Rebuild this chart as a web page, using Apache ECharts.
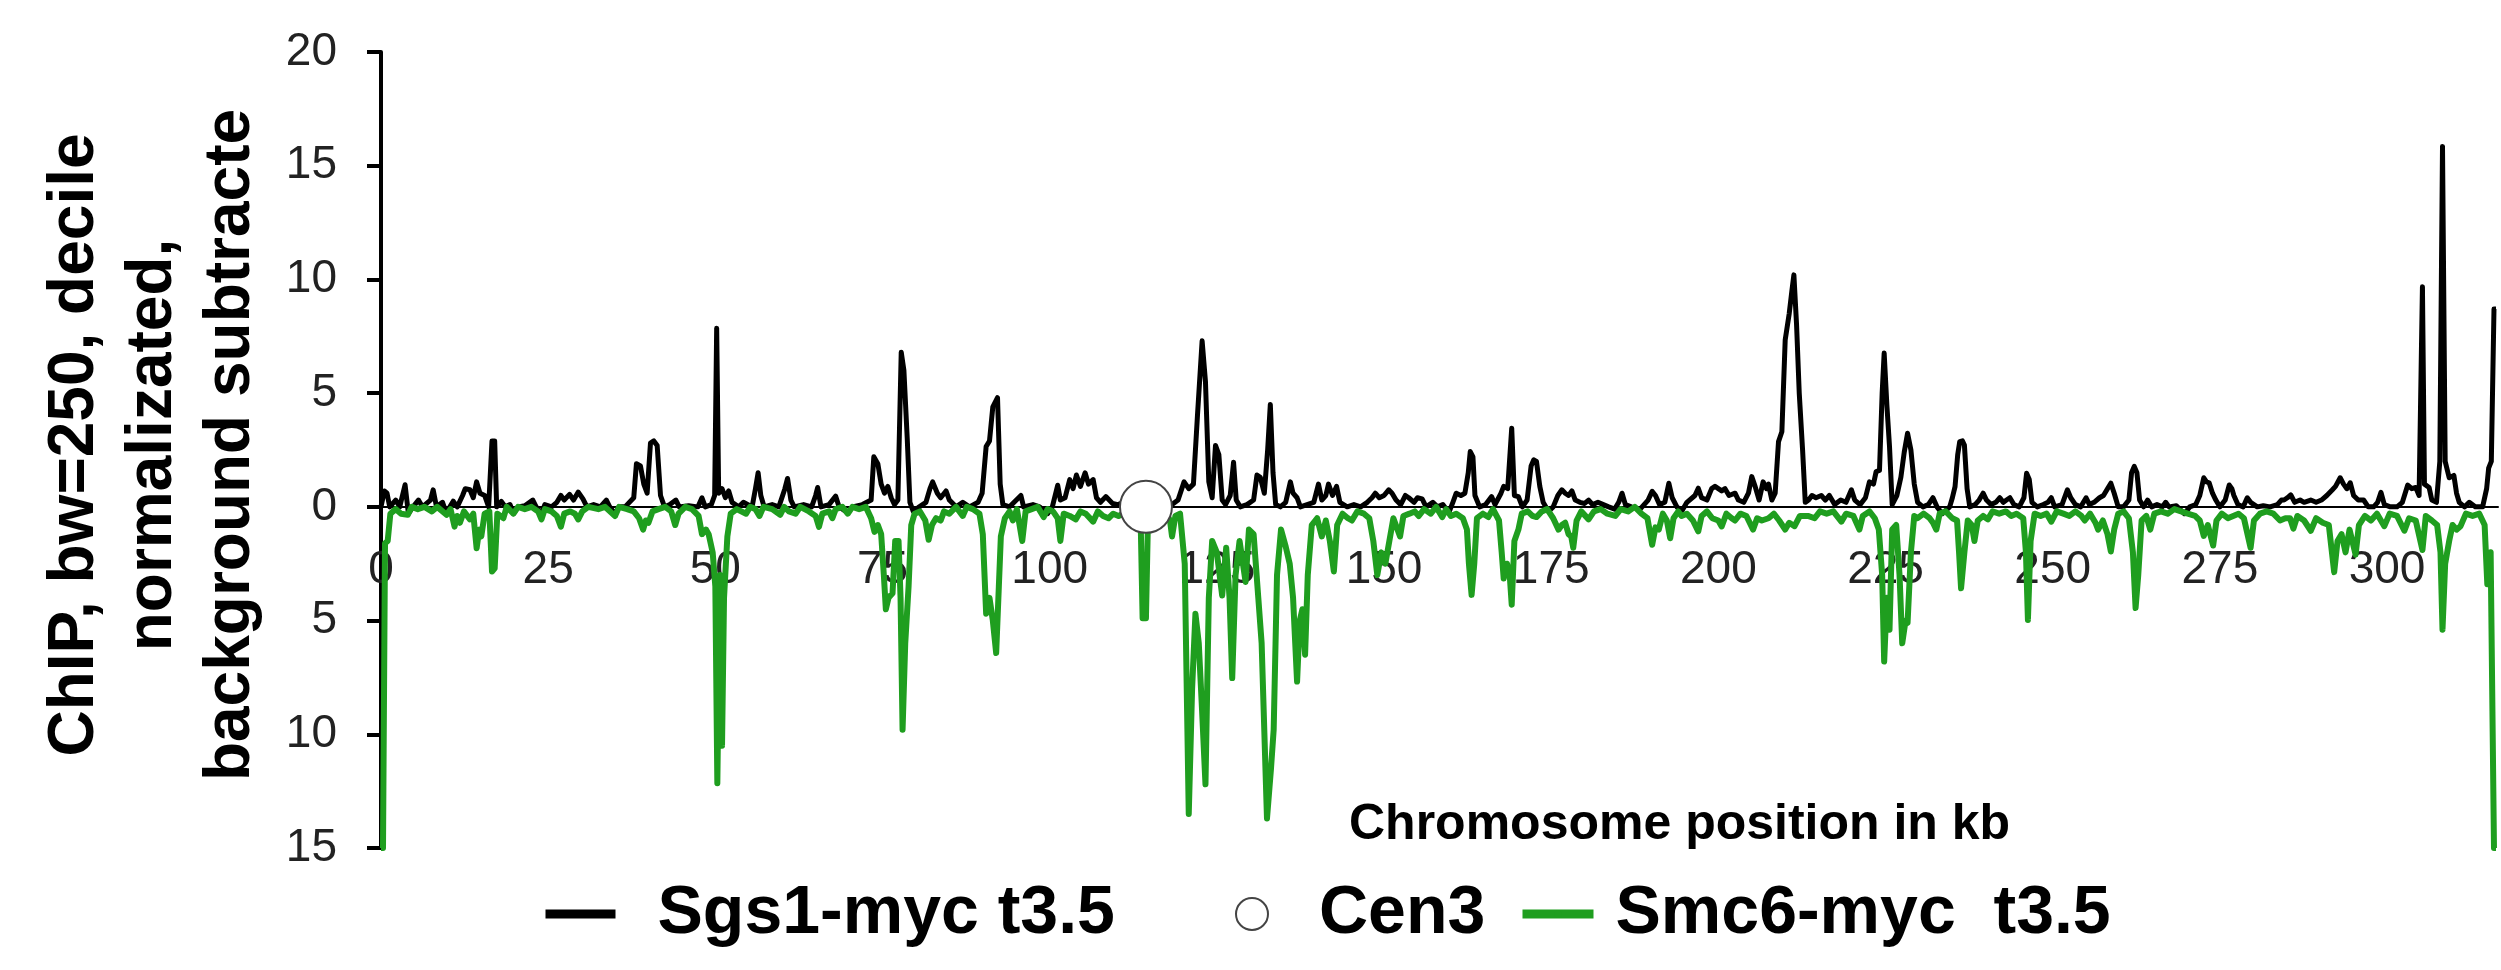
<!DOCTYPE html>
<html>
<head>
<meta charset="utf-8">
<script src="https://cdn.jsdelivr.net/npm/echarts@6/dist/echarts.min.js"></script>
<style>
html,body{margin:0;padding:0;background:#fff;}
#chart{width:2501px;height:970px;}
</style>
</head>
<body>
<div id="chart"></div>
<script>
// ---- data (kb, value) ----
const seriesNames = ['Sgs1-myc t3.5', 'Cen3', 'Smc6-myc  t3.5'];
const yAxisTitle = 'ChIP, bw=250, decile\nnormalizated,\nbackground subtracte';
const xAxisTitle = 'Chromosome position in kb';
const xTickValues = [0, 25, 50, 75, 100, 125, 150, 175, 200, 225, 250, 275, 300];
const yTickValues = [-15, -10, -5, 0, 5, 10, 15, 20];

const sgs1 = [
[0,0],[0.5,0.7],[0.9,0.6],[1.3,0],[2.2,0.3],[2.8,0],[3.6,0.97],[4.1,-0.3],[4.8,0],[5.6,0.3],[6.2,0],[7.4,0.3],[7.8,0.75],[8.3,0],
[9.2,0.2],[9.8,-0.3],[10.3,0],[10.8,0.25],[11.4,0],[12.2,0.5],[12.6,0.8],[13.3,0.75],[13.8,0.4],[14.3,1.1],[14.8,0.6],[15.5,0.5],[16.1,0],
[16.6,2.9],[17.0,2.9],[17.3,0],[18.0,0.24],[18.6,0],[19.3,0.1],[19.8,-0.3],[20.5,0],[21.5,0.05],[22.7,0.3],[23.2,0],[24.0,-0.3],[24.5,0.1],
[25.5,0],[26.3,0.2],[26.9,0.5],[27.4,0.3],[28.2,0.55],[28.8,0.3],[29.5,0.65],[30.2,0.35],[30.8,0],[31.8,0.1],[32.8,0],[33.7,0.3],[34.2,0],
[35.0,-0.3],[35.6,0],[36.5,0],[37.8,0.4],[38.2,1.9],[38.8,1.8],[39.3,1.0],[39.8,0.6],[40.3,2.8],[40.8,2.9],[41.3,2.7],[41.8,0.5],[42.4,0],
[43.2,0.1],[44.1,0.3],[44.6,0],[46.0,0.05],[47.4,0],[48.0,0.4],[48.5,0],[49.4,0.1],[49.9,0.5],[50.2,7.85],[50.5,0.6],[51.0,0.8],[51.5,0.4],
[52.0,0.7],[52.5,0.2],[53.5,0],[54.2,0.2],[55.5,0],[56.0,0.8],[56.4,1.5],[56.8,0.5],[57.3,0],[58.5,0.1],[59.5,0],[60.4,0.8],[60.8,1.25],
[61.3,0.3],[61.8,0],[63.2,0.1],[64.4,0],[65.0,0.5],[65.3,0.85],[65.8,0],[67.0,0.1],[68.0,0.47],[68.5,0],[69.8,-0.25],[70.5,0],[72.0,0.1],
[73.3,0.3],[73.7,2.2],[74.3,1.9],[74.8,1.0],[75.3,0.6],[75.8,0.9],[76.3,0.4],[76.8,0.1],[77.3,0.3],[77.8,6.8],[78.2,6.0],[78.7,3.0],[79.1,0.2],
[79.6,-0.2],[80.5,0],[81.5,0.2],[82.1,0.8],[82.5,1.1],[83.2,0.6],[83.7,0.4],[84.5,0.7],[85.0,0.3],[86.0,0],[87.0,0.2],[88.0,0],[89.3,0.2],
[89.9,0.6],[90.5,2.65],[91.0,2.9],[91.5,4.4],[92.2,4.8],[92.6,1.0],[93.0,0.1],[94.0,0],[95.7,0.5],[96.1,0],[97.5,0.1],[98.5,0],[99.7,-0.3],
[100.4,0],[101.2,0.95],[101.6,0.3],[102.3,0.4],[103.0,1.2],[103.5,0.8],[104.0,1.4],[104.6,0.9],[105.3,1.5],[105.8,1.0],[106.5,1.2],[107.0,0.4],
[107.6,0.2],[108.4,0.45],[109.4,0.15],[110.2,0.1],[112.0,0.3],[113.5,0.2],[115.0,0.3],[116.5,0.2],[117.8,0.1],[118.3,0.1],[119.2,0.3],
[120.1,1.1],[120.8,0.8],[121.5,1.0],[122.1,4.0],[122.8,7.3],[123.3,5.5],[123.8,1.1],[124.3,0.4],[124.8,2.7],[125.3,2.3],[125.8,0.3],[126.3,0.1],
[127.0,0.5],[127.5,1.96],[127.9,0.3],[128.5,0],[129.5,0.1],[130.5,0.3],[131.0,1.4],[131.5,1.3],[132.1,0.6],[132.6,2.5],[133.0,4.5],[133.4,1.5],
[133.8,0.1],[134.5,0],[135.3,0.2],[136.0,1.1],[136.4,0.6],[137.0,0.4],[137.5,0],[138.5,0.1],[139.5,0.2],[140.2,1.0],[140.7,0.3],[141.3,0.5],
[141.7,1.0],[142.3,0.5],[142.9,0.9],[143.4,0.2],[144.5,0],[145.5,0.1],[146.5,0],[147.5,0.2],[148.2,0.4],[148.7,0.6],[149.3,0.4],[150.0,0.5],
[150.7,0.75],[151.2,0.6],[151.8,0.3],[152.5,0.1],[153.2,0.5],[153.7,0.4],[154.5,0.2],[155.0,0.4],[155.7,0.35],[156.3,0],[157.3,0.2],[158.0,0],
[158.8,0.1],[159.7,-0.25],[160.3,0.2],[160.8,0.6],[161.5,0.5],[162.1,0.6],[162.6,1.5],[162.9,2.43],[163.3,2.2],[163.6,0.5],[164.3,0],[165.2,0.1],
[166.1,0.45],[166.6,0.1],[167.5,0.6],[167.9,0.9],[168.5,0.8],[169.1,3.46],[169.5,0.5],[170.1,0.45],[170.7,0],[171.4,0.3],[172.0,1.8],[172.4,2.07],
[172.8,2.0],[173.3,0.9],[173.8,0.2],[174.6,-0.2],[175.3,0],[176.0,0.5],[176.6,0.75],[177.1,0.6],[177.6,0.5],[178.1,0.7],[178.6,0.3],[179.3,0.2],
[180.0,0.15],[180.6,0.3],[181.2,0.1],[182.0,0.2],[182.8,0.1],[183.6,0],[184.5,-0.1],[185.1,0.2],[185.6,0.6],[186.1,0.1],[187.0,0],[188.3,-0.1],
[189.5,0.3],[190.1,0.68],[190.6,0.5],[191.2,0.1],[192.0,0.2],[192.6,1.04],[193.1,0.4],[193.8,0],[194.5,-0.2],[195.3,0.2],[196.5,0.5],[197.0,0.82],
[197.5,0.4],[198.3,0.3],[199.0,0.8],[199.5,0.9],[200.0,0.8],[200.5,0.7],[201.0,0.8],[201.6,0.5],[202.5,0.6],[203.0,0.3],[203.8,0.2],[204.5,0.6],
[205.0,1.33],[205.5,0.9],[206.1,0.3],[206.7,1.1],[207.2,0.8],[207.5,1.0],[208.0,0.3],[208.5,0.6],[209.0,2.87],[209.5,3.3],[210.0,7.34],[210.6,8.5],
[211.0,9.5],[211.3,10.2],[211.7,8.0],[212.1,5.0],[212.6,2.5],[213.0,0.2],[213.5,0.3],[214.0,0.5],[214.6,0.4],[215.4,0.5],[216.0,0.3],[216.6,0.5],
[217.4,0.1],[218.3,0.3],[219.1,0.2],[219.9,0.75],[220.4,0.3],[221.2,0.1],[222.0,0.4],[222.6,1.1],[223.2,1.0],[223.6,1.55],[224.1,1.6],[224.5,5.0],
[224.8,6.76],[225.2,4.5],[225.6,2.65],[226.0,0.1],[226.7,0.5],[227.3,1.3],[227.8,2.4],[228.3,3.24],[228.8,2.5],[229.3,1.0],[229.8,0.2],[230.6,0],
[231.4,0.1],[232.1,0.4],[232.7,0],[233.5,-0.3],[234.6,0],[235.0,0.4],[235.4,0.89],[235.8,2.3],[236.1,2.87],[236.5,2.9],[236.8,2.72],[237.2,0.8],
[237.6,0],[238.4,0.1],[239.0,0.3],[239.6,0.6],[240.1,0.3],[240.8,0.1],[241.5,0.2],[242.1,0.4],[242.6,0.2],[243.1,0.3],[243.6,0.4],[244.2,0.1],
[245.0,0],[245.7,0.4],[246.1,1.48],[246.5,1.2],[246.9,0.2],[247.7,0],[248.6,0.1],[249.3,0.2],[249.8,0.4],[250.3,0],[251.4,0.1],[252.2,0.75],
[252.7,0.4],[253.4,0.1],[254.2,0],[255.0,0.4],[255.5,0.1],[256.2,0.2],[257.0,0.4],[257.6,0.5],[258.2,0.8],[258.7,1.04],[259.2,0.6],[259.8,0],
[260.6,0],[261.4,0.3],[261.8,1.5],[262.2,1.78],[262.6,1.5],[263.0,0.3],[263.6,0],[264.2,0.3],[264.8,0],[265.6,0.1],[266.4,0],[266.9,0.2],
[267.4,0],[268.5,0.05],[269.7,-0.3],[270.5,0],[271.4,0.1],[272.0,0.5],[272.6,1.28],[273.0,1.1],[273.4,1.06],[273.9,0.6],[274.4,0.3],[275.0,0],
[275.8,0.3],[276.4,0.96],[276.8,0.8],[277.1,0.5],[277.7,0.1],[278.5,0],[279.1,0.4],[279.6,0.2],[280.6,0],[281.5,0.05],[282.5,0],[283.6,0.1],
[284.2,0.3],[284.6,0.3],[285.1,0.4],[285.6,0.53],[286.2,0.2],[287.0,0.3],[287.6,0.2],[288.6,0.3],[289.4,0.2],[290.2,0.3],[291.0,0.5],[291.8,0.74],
[292.3,0.9],[293.0,1.28],[293.5,1.0],[294.0,0.8],[294.5,1.06],[295.0,0.5],[295.7,0.3],[296.5,0.3],[297.2,0],[298.0,0],[298.6,0.2],[299.1,0.64],
[299.6,0.1],[300.5,0],[301.5,0],[302.3,0.2],[303.1,0.96],[303.7,0.8],[304.3,0.85],[304.8,0.5],[305.1,6.0],[305.3,9.68],[305.6,1.0],[306.3,0.85],
[306.7,0.3],[307.4,0.2],[307.9,2.0],[308.3,15.85],[308.7,2.0],[309.3,1.28],[310.0,1.38],[310.4,0.6],[310.8,0.2],[311.6,0],[312.3,0.2],[313.2,0],
[314.3,0],[314.9,0.8],[315.2,1.7],[315.6,2.0],[316.0,8.7],[316.3,8.7]
];

const smc6 = [
[0,-15],[0.3,-15],[0.6,-1.6],[1.0,-1.5],[1.4,-0.3],[2.2,-0.1],[3.0,-0.3],[4.0,-0.35],[4.6,0],[5.5,-0.1],[6.5,0],[7.6,-0.2],[8.4,0],[9.8,-0.35],
[10.4,-0.1],[11.0,-0.87],[11.4,-0.4],[11.8,-0.7],[12.4,-0.2],[13.3,-0.55],[13.8,-0.3],[14.3,-1.82],[14.7,-1.0],[15.0,-1.3],[15.5,-0.3],[16.2,-0.2],
[16.6,-2.84],[17.0,-2.7],[17.4,-0.3],[18.3,-0.5],[18.8,0],[19.8,-0.3],[20.5,0],[21.5,-0.1],[22.5,0],[23.5,-0.2],[24.0,-0.55],[24.5,-0.1],
[25.5,-0.2],[26.3,-0.4],[26.9,-0.87],[27.4,-0.3],[28.3,-0.2],[29.0,-0.3],[29.5,-0.55],[30.1,-0.2],[31.0,0],[32.5,-0.1],[33.5,0],[35.0,-0.4],
[35.6,0],[36.8,-0.1],[37.8,-0.2],[38.6,-0.5],[39.2,-1.0],[39.6,-0.6],[40.0,-0.7],[40.6,-0.2],[41.5,-0.1],[42.5,0],[43.4,-0.2],[44.0,-0.8],
[44.5,-0.3],[45.5,0],[46.5,-0.1],[47.5,-0.4],[48.0,-1.2],[48.6,-1.0],[49.0,-1.2],[49.6,-2.0],[50.0,-3.5],[50.3,-12.15],[50.7,-3.0],[51.0,-10.5],
[51.3,-4.0],[51.8,-1.3],[52.3,-0.3],[53.2,-0.1],[54.6,-0.3],[55.2,0],[56.0,-0.1],[56.6,-0.4],[57.2,0],[58.5,-0.1],[59.7,-0.35],[60.3,0],
[61.0,-0.2],[62.0,-0.3],[62.7,0],[64.0,-0.2],[65.0,-0.4],[65.5,-0.88],[66.0,-0.3],[67.0,-0.2],[67.5,-0.5],[68.0,-0.1],[69.0,0],[69.8,-0.3],
[70.5,0],[71.5,-0.1],[72.5,0],[73.3,-0.5],[73.8,-1.1],[74.3,-0.8],[74.8,-1.2],[75.2,-3.0],[75.5,-4.5],[75.9,-4.0],[76.5,-3.8],[76.9,-1.5],
[77.4,-1.5],[77.7,-4.0],[78.0,-9.8],[78.4,-6.0],[78.9,-3.5],[79.3,-0.8],[79.8,-0.3],[80.6,-0.2],[81.4,-0.6],[81.9,-1.45],[82.4,-0.8],[83.0,-0.5],
[83.7,-0.6],[84.2,-0.2],[85.0,-0.3],[86.0,0],[87.0,-0.4],[87.6,0],[88.5,-0.1],[89.5,-0.3],[90.0,-1.2],[90.5,-4.7],[91.0,-4.0],[91.5,-5.0],
[92.0,-6.43],[92.4,-3.5],[92.7,-1.3],[93.3,-0.5],[94.0,-0.2],[94.5,-0.6],[95.1,-0.1],[95.9,-1.5],[96.4,-0.2],[97.3,-0.1],[98.2,0],[99.1,-0.45],
[99.7,-0.1],[100.5,-0.2],[101.2,-0.5],[101.6,-1.5],[102.1,-0.3],[103.0,-0.4],[103.9,-0.55],[104.6,-0.2],[105.4,-0.3],[106.5,-0.65],[107.2,-0.2],
[108.0,-0.4],[108.8,-0.5],[109.5,-0.3],[110.3,-0.4],[111.0,-0.3],[112.0,-0.5],[112.8,-0.3],[113.6,-0.5],[113.9,-4.9],[114.4,-4.9],[114.7,-0.6],
[115.5,-0.3],[116.5,-0.5],[117.3,-0.2],[118.0,-0.6],[118.3,-1.3],[118.8,-0.4],[119.5,-0.3],[120.2,-2.5],[120.8,-13.5],[121.3,-8.0],[121.8,-4.7],
[122.3,-6.0],[122.8,-9.0],[123.3,-12.2],[123.8,-4.0],[124.3,-1.5],[125.0,-2.0],[125.8,-3.9],[126.4,-1.8],[126.9,-4.0],[127.3,-7.53],[127.8,-3.0],
[128.4,-1.5],[129.3,-3.3],[129.8,-1.0],[130.5,-1.2],[131.2,-4.0],[131.7,-6.0],[132.5,-13.7],[133.1,-11.5],[133.5,-9.8],[134.0,-3.0],[134.6,-1.0],
[135.3,-1.75],[135.9,-2.5],[136.4,-4.0],[137.0,-7.68],[137.4,-5.0],[137.8,-4.5],[138.2,-6.5],[138.6,-3.0],[139.2,-0.8],[140.0,-0.5],[140.7,-1.3],
[141.3,-0.6],[141.9,-1.5],[142.5,-2.84],[143.0,-0.8],[143.8,-0.3],[144.6,-0.5],[145.2,-0.6],[146.0,-0.2],[147.0,-0.3],[147.8,-0.5],[148.4,-1.5],
[149.0,-3.0],[149.6,-2.0],[150.2,-2.5],[150.8,-1.5],[151.4,-0.5],[152.4,-1.3],[152.9,-0.4],[153.8,-0.3],[154.6,-0.2],[155.2,-0.4],[156.0,-0.1],
[157.0,-0.3],[157.8,0],[158.7,-0.45],[159.3,-0.1],[160.0,-0.4],[160.8,-0.3],[161.8,-0.5],[162.4,-1.0],[162.7,-2.5],[163.1,-3.87],[163.5,-2.5],
[163.9,-0.5],[164.8,-0.3],[165.6,-0.45],[166.3,-0.1],[167.2,-0.6],[167.6,-2.0],[167.9,-3.15],[168.4,-2.5],[168.8,-3.0],[169.1,-4.3],[169.5,-1.5],
[170.1,-1.0],[170.6,-0.3],[171.5,-0.2],[172.2,-0.4],[172.8,-0.45],[173.6,-0.2],[174.4,-0.1],[175.3,-0.5],[176.1,-1.0],[176.6,-0.8],[177.1,-0.7],
[177.6,-1.2],[178.0,-1.3],[178.3,-1.8],[178.8,-0.6],[179.5,-0.2],[180.6,-0.55],[181.4,-0.2],[182.4,-0.1],[183.4,-0.3],[184.6,-0.4],[185.4,-0.1],
[186.5,-0.2],[187.5,0],[188.5,-0.3],[189.4,-0.5],[190.1,-1.67],[190.6,-0.9],[191.1,-1.0],[191.7,-0.3],[192.3,-0.6],[192.8,-1.38],[193.3,-0.5],
[194.0,-0.2],[194.5,-0.4],[195.3,-0.3],[196.2,-0.6],[197.0,-1.08],[197.5,-0.4],[198.3,-0.2],[199.1,-0.5],[200.0,-0.6],[200.5,-0.86],[201.2,-0.3],
[202.0,-0.5],[202.5,-0.6],[203.3,-0.3],[204.2,-0.4],[205.2,-1.0],[205.8,-0.5],[206.5,-0.6],[207.5,-0.5],[208.3,-0.3],[209.1,-0.6],[210.0,-1.0],
[210.6,-0.7],[211.4,-0.85],[212.2,-0.4],[213.4,-0.4],[214.4,-0.5],[215.2,-0.2],[216.2,-0.3],[217.2,-0.2],[218.4,-0.65],[219.1,-0.3],[220.2,-0.4],
[221.1,-1.0],[221.6,-0.4],[222.6,-0.2],[223.4,-0.5],[224.0,-1.0],[224.5,-3.0],[224.8,-6.8],[225.2,-4.0],[225.6,-5.4],[226.0,-1.0],[226.6,-0.8],
[227.1,-3.0],[227.5,-6.0],[228.0,-5.0],[228.3,-5.1],[228.8,-2.0],[229.3,-0.4],[229.8,-0.5],[230.7,-0.3],[231.6,-0.5],[232.1,-0.7],[232.6,-1.0],
[233.1,-0.3],[234.0,-0.2],[235.0,-0.5],[235.7,-0.6],[236.0,-2.0],[236.3,-3.58],[236.8,-2.0],[237.3,-0.6],[237.9,-0.8],[238.3,-1.5],[238.8,-0.6],
[239.6,-0.4],[240.3,-0.55],[241.0,-0.2],[242.0,-0.3],[243.0,-0.2],[243.8,-0.4],[244.6,-0.3],[245.6,-0.5],[246.0,-2.0],[246.3,-4.97],[246.7,-1.5],
[247.3,-0.3],[248.2,-0.4],[249.1,-0.3],[249.8,-0.65],[250.6,-0.2],[251.6,-0.3],[252.5,-0.4],[253.4,-0.2],[254.3,-0.4],[254.8,-0.6],[255.6,-0.3],
[256.4,-0.7],[256.8,-1.0],[257.5,-0.6],[258.2,-1.2],[258.7,-1.96],[259.2,-1.0],[259.8,-0.3],[260.6,-0.2],[261.4,-0.5],[262.0,-2.0],[262.4,-4.45],
[262.8,-3.0],[263.3,-0.6],[264.0,-0.4],[264.6,-1.0],[265.2,-0.3],[266.2,-0.2],[267.2,-0.3],[268.2,-0.1],[269.2,-0.2],[270.2,-0.3],[271.3,-0.4],
[272.0,-0.6],[272.6,-1.28],[273.2,-0.8],[274.0,-1.7],[274.5,-0.6],[275.3,-0.3],[276.2,-0.5],[277.0,-0.4],[277.8,-0.3],[278.6,-0.5],[279.6,-1.8],
[280.1,-0.6],[281.0,-0.3],[282.0,-0.2],[283.0,-0.3],[284.0,-0.6],[284.8,-0.5],[285.5,-0.5],[286.0,-0.96],[286.6,-0.4],[287.6,-0.6],[288.6,-1.05],
[289.4,-0.5],[290.4,-0.7],[291.3,-0.8],[292.1,-2.87],[292.6,-1.5],[293.2,-1.2],[293.8,-2.0],[294.4,-1.0],[295.3,-2.1],[295.8,-0.8],[296.7,-0.4],
[297.6,-0.6],[298.5,-0.3],[299.6,-0.85],[300.4,-0.3],[301.5,-0.4],[302.6,-1.05],[303.3,-0.5],[304.3,-0.6],[305.3,-1.9],[305.8,-0.4],[306.7,-0.6],
[307.5,-0.8],[308.0,-2.0],[308.3,-5.4],[308.7,-2.5],[309.3,-1.5],[309.8,-0.8],[310.4,-1.0],[311.0,-0.85],[311.8,-0.3],[312.8,-0.4],[313.8,-0.3],
[314.6,-0.8],[315.0,-3.4],[315.5,-2.0],[316.0,-15],[316.3,-15]
];

const cen3 = [[114.4, 0]];

// ---- chart ----
const FONT = "'Liberation Sans', Arial, Helvetica, sans-serif";
const GREEN = '#1f9e1f';
const Y_MIN = -15, Y_MAX = 20;
const GRID_TOP = 52, GRID_BOTTOM = 122, CHART_H = 970;
const plotH = CHART_H - GRID_TOP - GRID_BOTTOM;
// move the category axis up from the grid bottom to the value 0 line
const zeroOffset = -plotH * (0 - Y_MIN) / (Y_MAX - Y_MIN);

const chart = echarts.init(document.getElementById('chart'), null, {renderer: 'canvas'});
const legendText = {fontFamily: FONT, fontSize: 68, fontWeight: 'bold', color: '#000', lineHeight: 80};

chart.setOption({
  animation: false,
  backgroundColor: '#fff',
  grid: {left: 381, right: 0, top: GRID_TOP, bottom: GRID_BOTTOM, containLabel: false},
  xAxis: {
    type: 'value', min: 0, max: 316.6, interval: 25,
    position: 'bottom', offset: zeroOffset,
    axisLine: {show: true, onZero: false, lineStyle: {color: '#000', width: 2}},
    axisTick: {show: false},
    splitLine: {show: false},
    axisLabel: {
      margin: 40, fontSize: 46, fontFamily: FONT, color: '#222',
      formatter: v => (xTickValues.indexOf(Math.round(v * 1000) / 1000) >= 0 ? String(v) : '')
    }
  },
  yAxis: {
    type: 'value', min: Y_MIN, max: Y_MAX, interval: 5,
    axisLine: {show: true, onZero: false, lineStyle: {color: '#000', width: 4}},
    axisTick: {show: true, inside: false, length: 14, lineStyle: {color: '#000', width: 4}},
    splitLine: {show: false},
    axisLabel: {
      margin: 44, fontSize: 46, fontFamily: FONT, color: '#222',
      formatter: v => (yTickValues.indexOf(v) >= 0 ? String(Math.abs(v)) : '')
    }
  },
  legend: [
    {data: [seriesNames[0]], left: 541, top: 874, padding: 0, itemWidth: 70, itemHeight: 9,
     selectedMode: false, lineStyle: {width: 9},
     textStyle: Object.assign({}, legendText, {padding: [0, 0, 0, 37]})},
    {data: [seriesNames[1]], left: 1235, top: 874, padding: 0, itemWidth: 32, itemHeight: 32,
     selectedMode: false, itemStyle: {borderWidth: 2, borderColor: '#444', color: '#fff', opacity: 1},
     textStyle: Object.assign({}, legendText, {padding: [0, 0, 0, 46]})},
    {data: [seriesNames[2]], left: 1518, top: 874, padding: 0, itemWidth: 71, itemHeight: 9,
     selectedMode: false, lineStyle: {width: 9},
     textStyle: Object.assign({}, legendText, {padding: [0, 0, 0, 17]})}
  ],
  graphic: [
    {type: 'text', x: 153, y: 445, rotation: Math.PI / 2, z: 10,
     style: {text: yAxisTitle, font: "bold 64px " + FONT, fill: '#000',
             textAlign: 'center', textVerticalAlign: 'middle', align: 'center', verticalAlign: 'middle', lineHeight: 78}},
    {type: 'text', x: 1349, y: 825, z: 10,
     style: {text: xAxisTitle, font: "bold 50px " + FONT, fill: '#000',
             textAlign: 'left', textVerticalAlign: 'middle', align: 'left', verticalAlign: 'middle'}}
  ],
  series: [
    {name: seriesNames[0], type: 'line', data: sgs1, symbol: 'none', z: 3,
     lineStyle: {color: '#000', width: 5, join: 'round'}, itemStyle: {color: '#000'}},
    {name: seriesNames[2], type: 'line', data: smc6, symbol: 'none', z: 4,
     lineStyle: {color: GREEN, width: 6, join: 'round'}, itemStyle: {color: GREEN}},
    {name: seriesNames[1], type: 'scatter', data: cen3, symbol: 'circle', symbolSize: 52, z: 6,
     itemStyle: {color: '#fff', borderColor: '#444', borderWidth: 2, opacity: 1}}
  ]
});
</script>
</body>
</html>
